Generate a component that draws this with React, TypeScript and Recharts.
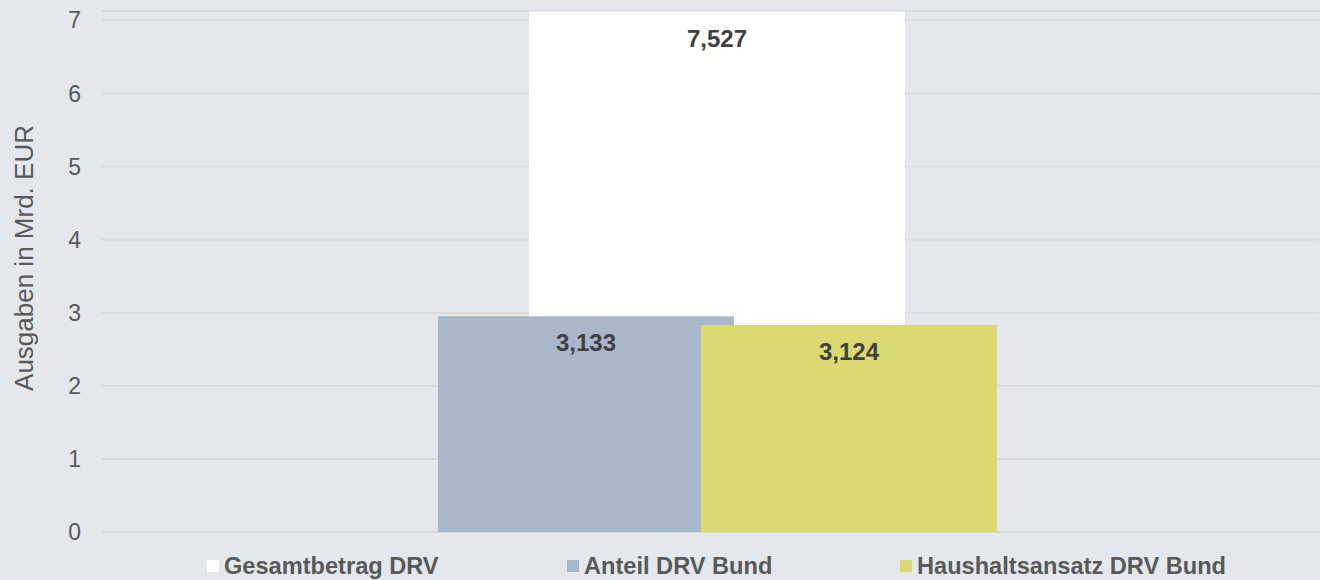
import React from 'react';
import { BarChart, Bar, XAxis, YAxis, CartesianGrid, LabelList } from 'recharts';

const categories = ['DRV'];
const gesamtbetrag = [7.12];
const anteilBund = [2.95];
const haushaltsansatz = [2.83];
const printedLabels = ['7,527', '3,133', '3,124'];
const seriesNames = ['Gesamtbetrag DRV', 'Anteil DRV Bund', 'Haushaltsansatz DRV Bund'];
const seriesColors = ['#ffffff', '#a9b8c8', '#d9da6f'];
const yTicks = [0, 1, 2, 3, 4, 5, 6, 7];

const data = categories.map((name, i) => ({
  name,
  gesamt: gesamtbetrag[i],
  anteil: anteilBund[i],
  haushalt: haushaltsansatz[i],
  gesamtLabel: printedLabels[0],
  anteilLabel: printedLabels[1],
  haushaltLabel: printedLabels[2],
}));

const font = '"Liberation Sans", Arial, sans-serif';
const labelStyle = { fill: '#404040', fontSize: 24, fontWeight: 700, fontFamily: font };
// legend item left edges
const legendLeft = [207, 567, 900];

function YTitle() {
  return (
    <text
      x={24}
      y={258}
      transform="rotate(-90, 24, 258)"
      textAnchor="middle"
      dominantBaseline="central"
      fill="#595959"
      fontSize={26}
      fontFamily={font}
    >
      Ausgaben in Mrd. EUR
    </text>
  );
}

function LegendBox() {
  return (
    <div style={{ position: 'absolute', left: 0, top: 553, width: 1320, height: 26, fontFamily: font }}>
      {seriesNames.map((s, i) => (
        <div key={s} style={{ position: 'absolute', left: legendLeft[i], top: 0, display: 'flex', alignItems: 'center', height: 26 }}>
          <div style={{ width: 12, height: 12, background: seriesColors[i], marginRight: 5 }} />
          <span style={{ color: '#595959', fontSize: 23.6, fontWeight: 700, lineHeight: '26px', whiteSpace: 'nowrap' }}>{s}</span>
        </div>
      ))}
    </div>
  );
}

export default function App() {
  return (
    <div style={{ position: 'absolute', left: 0, top: 0, width: 1320, height: 580, background: '#e4e8ed' }}>
      <BarChart width={1320} height={580} data={data} margin={{ top: 11, right: 1, bottom: 48, left: 0 }} barCategoryGap={0}>
        <CartesianGrid vertical={false} stroke="#d8dadd" strokeWidth={2} />
        <XAxis xAxisId="g" dataKey="name" hide padding={{ left: 427, right: 414 }} />
        <XAxis xAxisId="a" dataKey="name" hide padding={{ left: 336, right: 585 }} />
        <XAxis xAxisId="h" dataKey="name" hide padding={{ left: 599, right: 322 }} />
        <YAxis
          width={102}
          domain={[0, 7.127]}
          ticks={yTicks}
          allowDataOverflow
          axisLine={false}
          tickLine={false}
          tickSize={0}
          tickMargin={21}
          tick={{ fill: '#595959', fontSize: 23, fontFamily: font }}
          label={<YTitle />}
        />
        <Bar xAxisId="g" dataKey="gesamt" name={seriesNames[0]} fill={seriesColors[0]} isAnimationActive={false}>
          <LabelList dataKey="gesamtLabel" position="insideTop" offset={18} style={labelStyle} />
        </Bar>
        <Bar xAxisId="a" dataKey="anteil" name={seriesNames[1]} fill={seriesColors[1]} isAnimationActive={false}>
          <LabelList dataKey="anteilLabel" position="insideTop" offset={18} style={labelStyle} />
        </Bar>
        <Bar xAxisId="h" dataKey="haushalt" name={seriesNames[2]} fill={seriesColors[2]} isAnimationActive={false}>
          <LabelList dataKey="haushaltLabel" position="insideTop" offset={18} style={labelStyle} />
        </Bar>
      </BarChart>
      <LegendBox />
    </div>
  );
}
